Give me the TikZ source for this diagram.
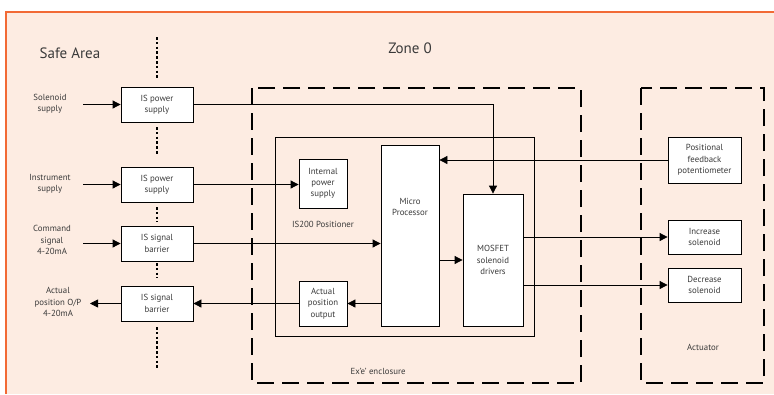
\documentclass[tikz,border=0pt]{standalone}
\usepackage{fontspec}
\setmainfont{PT Sans}
\usetikzlibrary{arrows.meta, positioning}
\definecolor{cpeach}{HTML}{FDECE2}
\definecolor{corange}{HTML}{F26A35}
\definecolor{ctext}{HTML}{3A3A3A}
\tikzset{
  every picture/.style={line width=0.8pt, x=1pt, y=-1pt},
  blk/.style={draw, fill=white, align=center, inner sep=1pt, font=\fontsize{8.8}{11.3}\selectfont, text=ctext},
  lbl/.style={align=center, font=\fontsize{8.8}{11.3}\selectfont, text=ctext},
  head/.style={font=\fontsize{15}{17}\selectfont, text=ctext},
  zone/.style={draw, line width=2.2pt, dash pattern=on 17pt off 8pt},
  barrier/.style={draw, line width=2.6pt, dash pattern=on 2.6pt off 2.2pt},
  arrow/.style={-{Triangle[length=8pt, width=8pt]}},
}

\begin{document}
\begin{tikzpicture}
  \useasboundingbox (0,0) rectangle (774,394);
  % frame of the sheet
  \fill[cpeach] (6,12) rectangle (774,394);
  \draw[corange, line width=2pt] (6,394) -- (6,12) -- (774,12);

  % area titles
  \node[head] (safe) at (70,53) {Safe Area};
  \node[head] (zone) at (410,48) {Zone 0};

  % enclosures
  \draw[zone] (252,88) rectangle (581,383);
  \draw[zone] (641,88) rectangle (764,383);
  \draw (275,137) rectangle (534,336);
  \node[lbl] (enctxt) at (378,371) {Ex’e’ enclosure};
  \node[lbl] (acttxt) at (703,347) {Actuator};
  \node[lbl] (postxt) at (323,224) {IS200 Positioner};

  % barrier line between safe area and zone 0
  \foreach \a/\b in {37/80, 127/155, 207/222, 263/278, 327/368}
    \draw[barrier] (157,\a) -- (157,\b);

  % safe area barriers
  \foreach \n/\y/\txt in {is1/104.5/IS power\\supply, is2/184.5/IS power\\supply,
      is3/243.5/IS signal\\barrier, is4/303.5/IS signal\\barrier}
    \node[blk, minimum width=72pt, minimum height=35pt] (\n) at (157,\y) {\txt};

  % outside signals
  \node[lbl] (lsol) at (50,104) {Solenoid\\supply};
  \node[lbl] (lins) at (50,184) {Instrument\\supply};
  \node[lbl] (lcmd) at (52,240) {Command\\signal\\4-20mA};
  \node[lbl] (lout) at (58,302) {Actual\\position O/P\\4-20mA};
  \coordinate (csol) at (83,104.5);
  \coordinate (cins) at (83,184.5);
  \coordinate (ccmd) at (83,243.5);
  \coordinate (cout) at (90,303.5);

  % positioner
  \node[blk, minimum width=48pt, minimum height=49pt] (ips) at (323,183.5) {Internal\\power\\supply};
  \node[blk, minimum width=48pt, minimum height=45pt] (apo) at (323,303.5) {Actual\\position\\output};
  \node[blk, minimum width=58pt, minimum height=181pt,
        label={[lbl, yshift=-75pt]north:Micro\\Processor}] (mpu) at (410,235.5) {};
  \node[blk, minimum width=60pt, minimum height=132pt] (mos) at (493,260) {MOSFET\\solenoid\\drivers};

  % actuator
  \node[blk, minimum width=73pt, minimum height=46pt] (pot) at (704.5,160) {Positional\\feedback\\potentiometer};
  \node[blk, minimum width=73pt, minimum height=34pt] (inc) at (704.5,237) {Increase\\solenoid};
  \node[blk, minimum width=73pt, minimum height=34pt] (dec) at (704.5,285) {Decrease\\solenoid};

  % connections
  \draw[arrow] (csol) -- (is1.west);
  \draw[arrow] (cins) -- (is2.west);
  \draw[arrow] (ccmd) -- (is3.west);
  \draw[arrow] (is4.west) -- (cout);
  \draw[arrow] (is1.east) -| (mos.north);
  \draw[arrow] (is2.east) -- (is2.east -| ips.west);
  \draw[arrow] (is3.east) -- (is3.east -| mpu.west);
  \draw[arrow] (pot.west) -- (pot.west -| mpu.east);
  \draw[arrow] (mpu.east |- mos.west) -- (mos.west);
  \draw[arrow] (apo.east -| mpu.west) -- (apo.east);
  \draw[arrow] (apo.west) -- (apo.west -| is4.east);
  \draw[arrow] (inc.west -| mos.east) -- (inc.west);
  \draw[arrow] (dec.west -| mos.east) -- (dec.west);
\end{tikzpicture}
\end{document}
